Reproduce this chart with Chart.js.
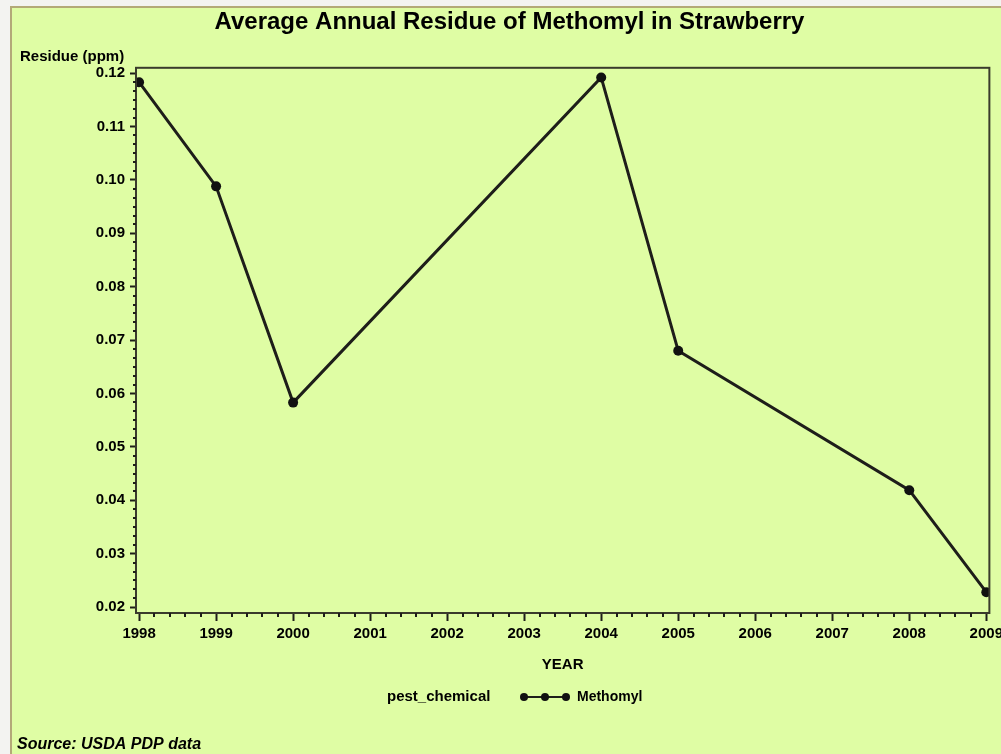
<!DOCTYPE html>
<html>
<head>
<meta charset="utf-8">
<script src="https://cdn.jsdelivr.net/npm/chart.js@4/dist/chart.umd.min.js"></script>
<style>
  html, body { margin: 0; padding: 0; background: #f3f3f1; overflow: hidden; }
  #frame {
    position: absolute; left: 10px; top: 6px;
    width: 1010px; height: 760px;
    background: #dffda4;
    border-left: 2px solid #b3a978;
    border-top: 2px solid #b3a978;
  }
  #chart { display: block; }
</style>
</head>
<body>
<div id="frame">
  <canvas id="chart" width="995" height="746"></canvas>
</div>
<script>
// values
const years = [1998, 1999, 2000, 2004, 2005, 2008, 2009];
const residue = [0.1183, 0.0988, 0.0583, 0.1192, 0.068, 0.0419, 0.0228];
const seriesName = 'Methomyl';
const legendTitle = 'pest_chemical';
const titleText = 'Average Annual Residue of Methomyl in Strawberry';
const yAxisLabel = 'Residue (ppm)';
const xAxisLabel = 'YEAR';
const sourceText = 'Source: USDA PDP data';

const ink = '#1e1e1a';
const font = 'Liberation Sans, Arial, sans-serif';

// minor ticks, top/right frame, y label, legend and source note
const extras = {
  id: 'extras',
  afterDraw(chart) {
    const {ctx, chartArea: a, scales: {x, y}} = chart;
    ctx.save();
    ctx.strokeStyle = '#3a3b2c';
    ctx.lineWidth = 2;
    ctx.strokeRect(a.left, a.top, a.right - a.left, a.bottom - a.top);

    ctx.strokeStyle = ink;
    ctx.lineWidth = 2;
    for (let v = 1998; v < 2009; v++) {
      for (let k = 1; k < 5; k++) {
        const px = Math.round(x.getPixelForValue(v + k / 5));
        ctx.beginPath();
        ctx.moveTo(px, a.bottom);
        ctx.lineTo(px, a.bottom + 4);
        ctx.stroke();
      }
    }
    for (let i = 2; i < 12; i++) {
      for (let k = 1; k < 6; k++) {
        const py = Math.round(y.getPixelForValue(i / 100 + k / 600));
        if (py < a.top) continue;
        ctx.beginPath();
        ctx.moveTo(a.left, py);
        ctx.lineTo(a.left - 3, py);
        ctx.stroke();
      }
    }

    ctx.fillStyle = '#000';
    ctx.textBaseline = 'middle';
    ctx.font = 'bold 15px ' + font;
    ctx.textAlign = 'left';
    ctx.fillText(yAxisLabel, 8, a.top - 11);

    // legend row
    const ly = 689;
    ctx.font = 'bold 15px ' + font;
    ctx.fillText(legendTitle, 375, ly);
    ctx.strokeStyle = ink;
    ctx.lineWidth = 2;
    ctx.beginPath();
    ctx.moveTo(512, ly);
    ctx.lineTo(554, ly);
    ctx.stroke();
    ctx.fillStyle = '#111';
    [512, 533, 554].forEach(cx => {
      ctx.beginPath();
      ctx.arc(cx, ly, 4, 0, Math.PI * 2);
      ctx.fill();
    });
    ctx.fillStyle = '#000';
    ctx.font = 'bold 14px ' + font;
    ctx.fillText(seriesName, 565, ly);

    ctx.font = 'italic bold 16px ' + font;
    ctx.fillText(sourceText, 5, 737);
    ctx.restore();
  }
};

new Chart(document.getElementById('chart'), {
  type: 'line',
  data: {
    datasets: [{
      label: seriesName,
      data: years.map((yr, i) => ({x: yr, y: residue[i]})),
      borderColor: ink,
      borderWidth: 3,
      backgroundColor: '#111',
      pointRadius: 5,
      pointBorderWidth: 0,
      pointBackgroundColor: '#111',
      tension: 0
    }]
  },
  options: {
    responsive: false,
    animation: false,
    layout: {padding: {left: 0, top: 0, right: 0, bottom: 80}},
    plugins: {
      legend: {display: false},
      tooltip: {enabled: false},
      title: {
        display: true,
        text: titleText,
        color: '#000',
        font: {family: font, size: 24, weight: 'bold'},
        padding: {top: 0, bottom: 31}
      }
    },
    scales: {
      x: {
        type: 'linear',
        min: 1997.96,
        max: 2009.04,
        afterFit(s) { s.height = 61; },
        grid: {drawOnChartArea: false, tickLength: 8, tickWidth: 2, tickColor: ink},
        border: {display: true, color: '#3a3b2c', width: 2},
        ticks: {
          stepSize: 1,
          includeBounds: false,
          autoSkip: false,
          maxRotation: 0,
          color: '#000',
          padding: 4,
          font: {family: font, size: 15, weight: 'bold'},
          callback: v => String(v)
        },
        title: {
          display: true,
          text: xAxisLabel,
          color: '#000',
          font: {family: font, size: 15, weight: 'bold'},
          padding: {top: 12, bottom: 0}
        }
      },
      y: {
        min: 0.0189,
        max: 0.121,
        afterFit(s) { s.width = 124; },
        grid: {drawOnChartArea: false, tickLength: 6, tickWidth: 2, tickColor: ink},
        border: {display: true, color: '#3a3b2c', width: 2},
        ticks: {
          stepSize: 0.01,
          includeBounds: false,
          color: '#000',
          padding: 5,
          font: {family: font, size: 15, weight: 'bold'},
          callback: v => v.toFixed(2)
        }
      }
    }
  },
  plugins: [extras]
});
</script>
</body>
</html>
